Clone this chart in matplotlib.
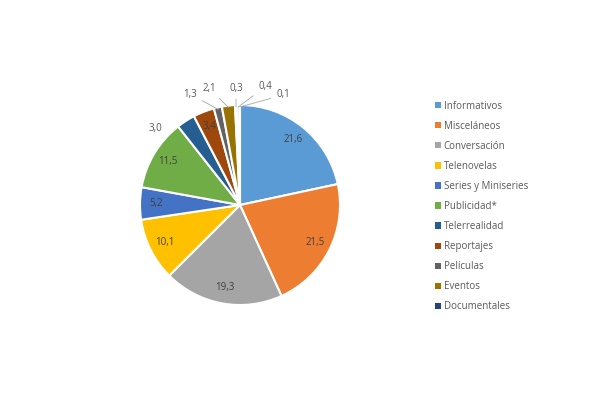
import numpy as np
import matplotlib.pyplot as plt
from matplotlib.patches import Patch

# shares (%) - clockwise from 12 o'clock
categories = ['Informativos', 'Misceláneos', 'Conversación', 'Telenovelas',
              'Series y Miniseries', 'Publicidad*', 'Telerrealidad', 'Reportajes',
              'Películas', 'Eventos', 'Documentales', 'Otros 1', 'Otros 2']
values = [21.6, 21.5, 19.3, 10.1, 5.2, 11.5, 3.0, 3.4, 1.3, 2.1, 0.3, 0.4, 0.1]
labels = ['21,6', '21,5', '19,3', '10,1', '5,2', '11,5', '3,0', '3,4',
          '1,3', '2,1', '0,3', '0,4', '0,1']
n_legend = 11

colors = ['#5B9BD5', '#ED7D31', '#A5A5A5', '#FFC000', '#4472C4', '#70AD47',
          '#255E91', '#9E480E', '#636363', '#997300', '#264478', '#43682B', '#7CAFDD']

plt.rcParams['font.family'] = ['Open Sans', 'DejaVu Sans']

fig = plt.figure(figsize=(6.04, 3.98), dpi=100)
ax = fig.add_axes([140/604, 93/398, 200/604, 200/398])

wedges, _ = ax.pie(values, colors=colors, startangle=90, counterclock=False,
                   radius=1.0, wedgeprops=dict(edgecolor='white', linewidth=1.5))
ax.set_xlim(-1, 1)
ax.set_ylim(-1, 1)
ax.set_aspect('equal')
ax.axis('off')

# inside labels for big slices, outside with leader lines for small ones
outside = {6: (-0.85, 0.77), 8: (-0.50, 1.11), 9: (-0.31, 1.17),
           10: (-0.04, 1.17), 11: (0.25, 1.18), 12: (0.43, 1.10)}
for i, w in enumerate(wedges):
    ang = np.deg2rad((w.theta1 + w.theta2) / 2)
    if i in outside:
        tx, ty = outside[i]
        if i == 6:
            ax.text(tx, ty, labels[i], ha='center', va='center', fontsize=7,
                    color='#595959')
        else:
            ax.annotate(labels[i], xy=(np.cos(ang) * 0.98, np.sin(ang) * 0.98),
                        xytext=(tx, ty), ha='center', va='center', fontsize=7,
                        color='#595959', annotation_clip=False,
                        arrowprops=dict(arrowstyle='-', color='#A6A6A6', lw=0.6,
                                        shrinkA=2, shrinkB=0))
    else:
        r = 0.84
        ax.text(np.cos(ang) * r, np.sin(ang) * r, labels[i], ha='center',
                va='center', fontsize=7, color='#404040')

handles = [Patch(facecolor=colors[i], edgecolor='none') for i in range(n_legend)]
fig.legend(handles, categories[:n_legend], loc='upper left',
           bbox_to_anchor=(426/604, 1 - 92/398), frameon=False, fontsize=7,
           handlelength=0.6, handleheight=0.6, handletextpad=0.3,
           labelspacing=0.93, labelcolor='#595959')

fig.savefig('out.png', dpi=100, facecolor='white')
